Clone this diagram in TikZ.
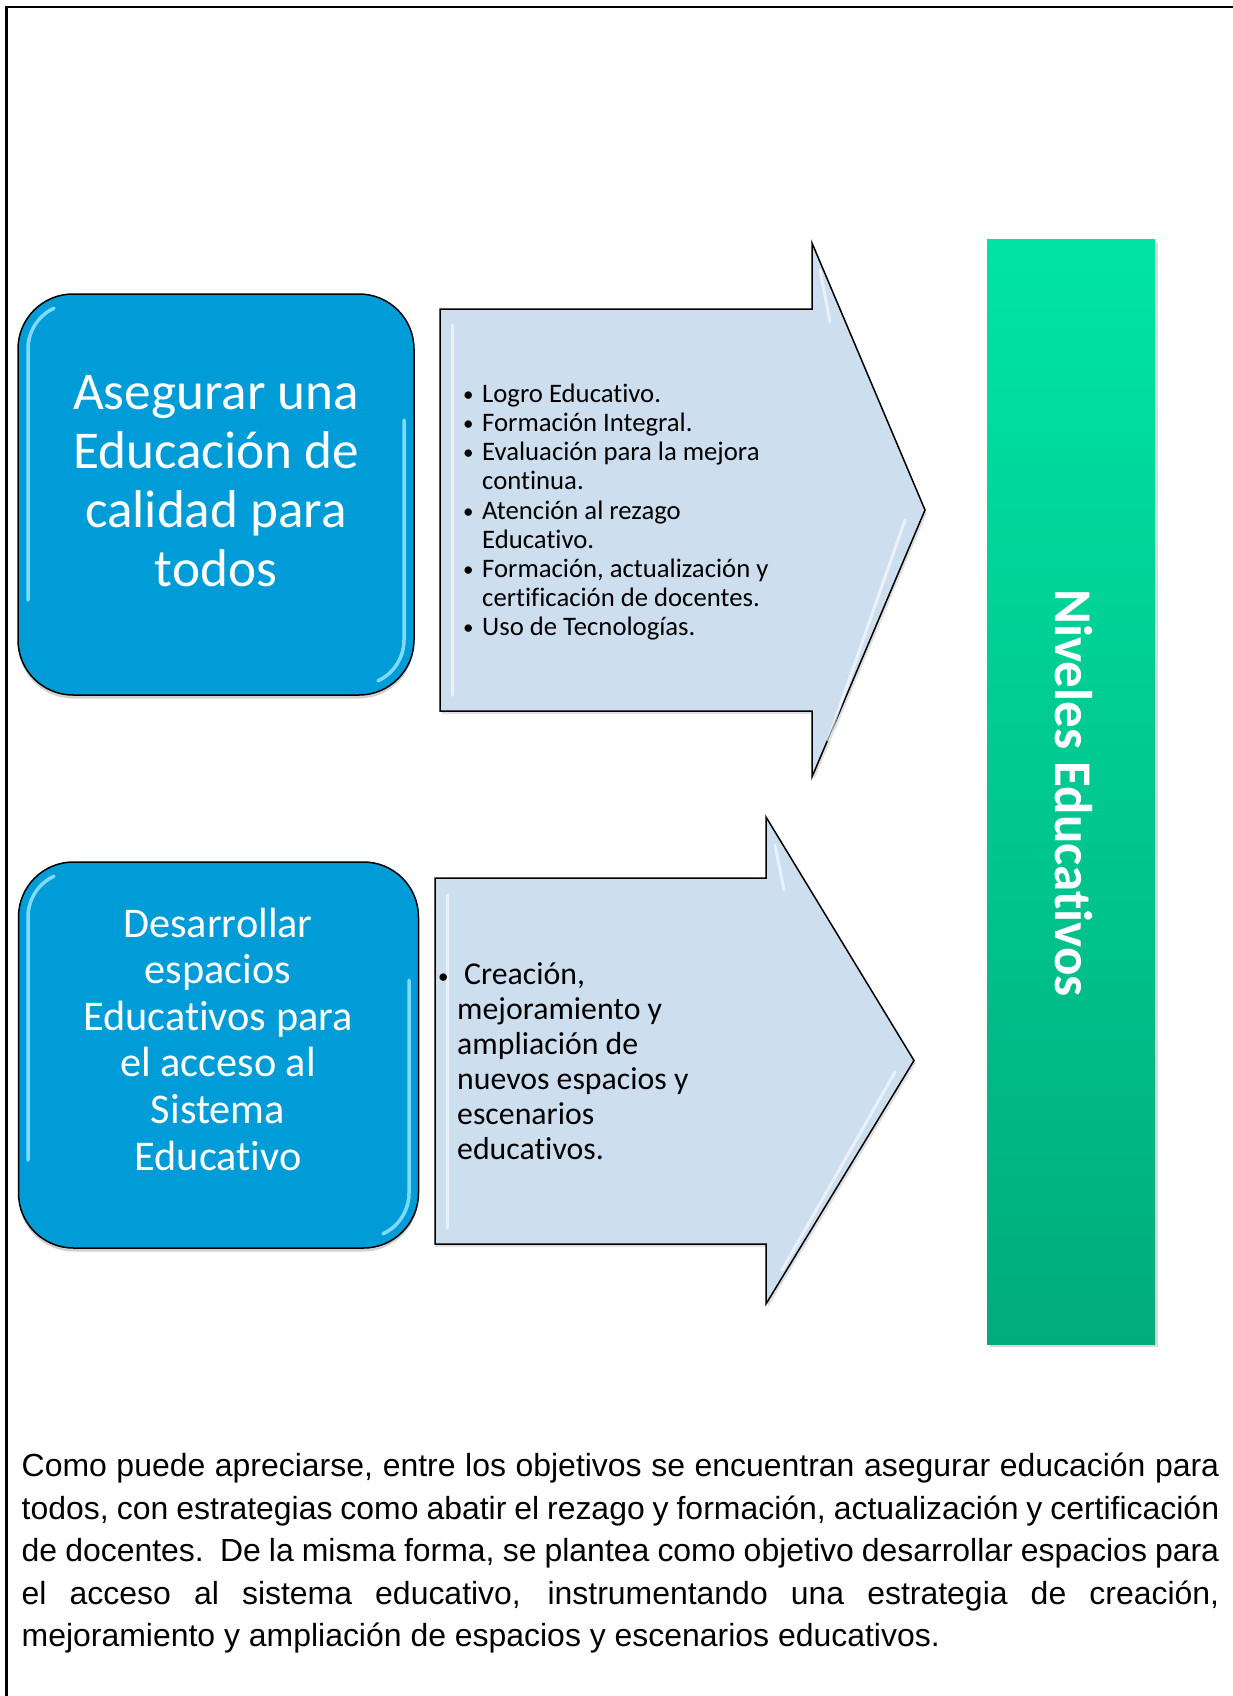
\documentclass[tikz,border=0pt]{standalone}
\usepackage{fontspec}
\setmainfont{Carlito}[Ligatures=NoCommon]
\newfontfamily\arialf{Liberation Sans}
\definecolor{boxblue}{RGB}{0,156,216}
\definecolor{boxhi}{RGB}{140,225,250}
\definecolor{arrowfill}{RGB}{205,222,239}
\definecolor{greentop}{RGB}{0,228,165}
\definecolor{greenbot}{RGB}{0,172,124}
\tikzset{
  bluebox/.style={draw=black, line width=1.5pt, fill=boxblue, rounded corners=55pt, inner sep=0pt},
  boxshadow/.style={fill=black, opacity=0.18, rounded corners=55pt, draw=none, inner sep=0pt},
  bigtxt/.style={text=white, anchor=base, inner sep=0pt, font=\fontsize{53.2}{58}\selectfont},
  midtxt/.style={text=white, anchor=base, inner sep=0pt, font=\fontsize{42.3}{47}\selectfont},
  listtxt/.style={text=black, anchor=base west, inner sep=0pt, font=\fontsize{26.7}{29}\selectfont},
  list2txt/.style={text=black, anchor=base west, inner sep=0pt, font=\fontsize{31.8}{35}\selectfont},
  bul/.style={text=black, anchor=base west, inner sep=0pt, font=\fontsize{21}{24}\selectfont},
  arrowshape/.style={draw=black, line width=1.5pt, fill=arrowfill, line join=miter},
  hiline/.style={draw=white, line width=3pt, opacity=0.6, line cap=round},
  bluehi/.style={draw=boxhi, line width=3.5pt, opacity=0.9, line cap=round},
  para/.style={anchor=base west, inner sep=0pt, font=\arialf\fontsize{31.95}{42}\selectfont}
}
\begin{document}
\begin{tikzpicture}[x=1pt,y=-1pt]
\useasboundingbox (0,0) rectangle (1233,1696);
% frame
\draw[line width=2.5pt] (6.5,1696) -- (6.5,7) -- (1233,7);

% ---------- blue box 1 ----------
\node[boxshadow, minimum width=396pt, minimum height=401pt] (s1) at (216,498) {};
\node[bluebox, minimum width=396pt, minimum height=401pt] (b1) at (216,494.5) {};
\draw[bluehi] (73,349) ++(245:45) arc[start angle=245, end angle=180, radius=45] -- (28,600);
\draw[bluehi] (404,420) -- (404,640) arc[start angle=0, end angle=65, radius=45];
\node[bigtxt] (t1a) at (216,409) {Asegurar una};
\node[bigtxt] (t1b) at (216,468) {Educación de};
\node[bigtxt] (t1c) at (216,527) {calidad para};
\node[bigtxt] (t1d) at (216,586) {todos};

% ---------- blue box 2 ----------
\node[boxshadow, minimum width=400pt, minimum height=386pt] (s2) at (218.5,1058.5) {};
\node[bluebox, minimum width=400pt, minimum height=386pt] (b2) at (218.5,1055) {};
\draw[bluehi] (73,917) ++(245:45) arc[start angle=245, end angle=180, radius=45] -- (28,1160);
\draw[bluehi] (409,980) -- (409,1193) arc[start angle=0, end angle=65, radius=45];
\node[midtxt] (t2a) at (218,937) {Desarrollar};
\node[midtxt] (t2b) at (218,983.5) {espacios};
\node[midtxt] (t2c) at (218,1030) {Educativos para};
\node[midtxt] (t2d) at (218,1076.5) {el acceso al};
\node[midtxt] (t2e) at (218,1123) {Sistema};
\node[midtxt] (t2f) at (218,1170.5) {Educativo};

% ---------- arrow 1 ----------
\fill[black, opacity=0.12] (442,312) -- (814,312) -- (814,246) -- (927,513) -- (814,780) -- (814,714) -- (442,714) -- cycle;
\draw[arrowshape] (440,309) -- (812,309) -- (812,243) -- (925,510) -- (812,777) -- (812,711) -- (440,711) -- cycle;
\draw[hiline] (452,325) -- (452,695);
\draw[hiline] (820,270) -- (830,322);
\draw[hiline] (905,520) -- (828,740);
\node[bul] (l1b1) at (463,401) {•};
\node[listtxt] (l1a) at (482,402) {Logro Educativo.};
\node[bul] (l1b2) at (463,430) {•};
\node[listtxt] (l1b) at (482,431) {Formación Integral.};
\node[bul] (l1b3) at (463,459.5) {•};
\node[listtxt] (l1c) at (482,460.5) {Evaluación para la mejora};
\node[listtxt] (l1c2) at (482,489.5) {continua.};
\node[bul] (l1b4) at (463,518) {•};
\node[listtxt] (l1d) at (482,519) {Atención al rezago};
\node[listtxt] (l1d2) at (482,548) {Educativo.};
\node[bul] (l1b5) at (463,576) {•};
\node[listtxt] (l1e) at (482,577) {Formación, actualización y};
\node[listtxt] (l1e2) at (482,606.5) {certificación de docentes.};
\node[bul] (l1b6) at (463,634.5) {•};
\node[listtxt] (l1f) at (482,635.5) {Uso de Tecnologías.};

% ---------- arrow 2 ----------
\fill[black, opacity=0.12] (437,881) -- (768,881) -- (768,820) -- (916,1063.5) -- (768,1307) -- (768,1247) -- (435,1247) -- cycle;
\draw[arrowshape] (435,878) -- (766,878) -- (766,817) -- (914,1060.5) -- (766,1304) -- (766,1244) -- (435,1244) -- cycle;
\draw[hiline] (447,895) -- (447,1228);
\draw[hiline] (775,845) -- (784,890);
\draw[hiline] (895,1072) -- (782,1270);
\node[bul] (l2b) at (438,983) {•};
\node[list2txt] (l2a) at (464,984) {Creación,};
\node[list2txt] (l2c) at (457,1019) {mejoramiento y};
\node[list2txt] (l2d) at (457,1054) {ampliación de};
\node[list2txt] (l2e) at (457,1089) {nuevos espacios y};
\node[list2txt] (l2f) at (457,1124) {escenarios};
\node[list2txt] (l2g) at (457,1159) {educativos.};

% ---------- green bar ----------
\fill[black, opacity=0.15] (990,243) rectangle (1158,1347);
\shade[top color=greentop, bottom color=greenbot] (987,240) rectangle (1155,1344);
\node[text=white, rotate=-90, inner sep=0pt, font=\bfseries\fontsize{53}{60}\selectfont] (niv) at (1074,793) {Niveles Educativos};

% ---------- paragraph ----------
\node[para] (p1) at (21.5,1476.5) {\makebox[1197.5pt][s]{Como puede apreciarse, entre los objetivos se encuentran asegurar educación para}};
\node[para] (p2) at (21.5,1519) {\makebox[1197.5pt][s]{todos, con estrategias como abatir el rezago y formación, actualización y certificación}};
\node[para] (p3) at (21.5,1561.5) {\makebox[1197.5pt][s]{de docentes.\ \ De la misma forma, se plantea como objetivo desarrollar espacios para}};
\node[para] (p4) at (21.5,1604) {\makebox[1197.5pt][s]{el acceso al sistema educativo, instrumentando una estrategia de creación,}};
\node[para] (p5) at (21.5,1646.5) {mejoramiento y ampliación de espacios y escenarios educativos.};
\end{tikzpicture}
\end{document}
